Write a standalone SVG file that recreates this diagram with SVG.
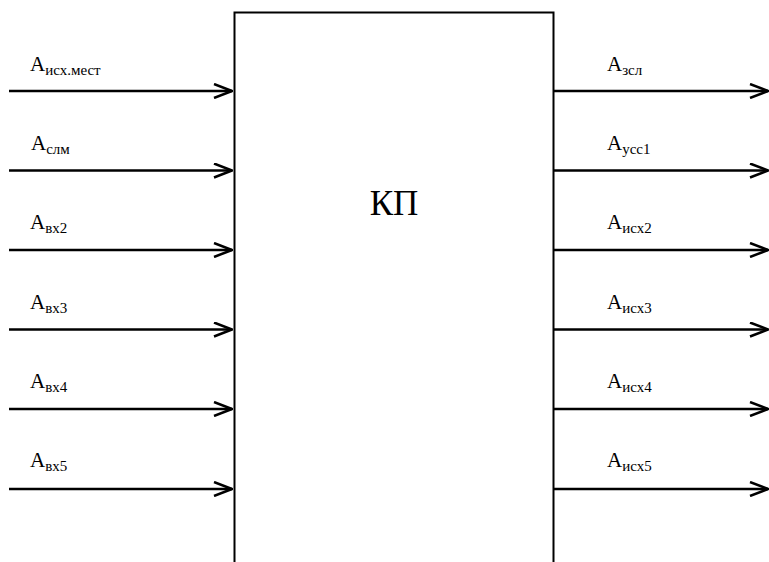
<svg xmlns="http://www.w3.org/2000/svg" width="769" height="562" viewBox="0 0 769 562">
<style>
text{font-family:"Liberation Serif","Times New Roman","DejaVu Serif",serif;fill:#000;font-size:21px}
.s{font-size:15px}
.big{font-size:35px}
.ln{stroke:#000;stroke-width:2.5;fill:none}
</style>
<defs>
<marker id="ah" viewBox="0 0 20 16" refX="19" refY="8" markerWidth="20" markerHeight="16" markerUnits="userSpaceOnUse" orient="auto">
<path d="M1,1 L19,8 L1,15" fill="none" stroke="#000" stroke-width="2.5"/>
</marker>
</defs>
<rect width="769" height="562" fill="#fff"/>
<g id="kp">
<path d="M234.5,562 V12.5 H553.5 V562" fill="none" stroke="#000" stroke-width="2"/>
<text class="big" x="394" y="215" text-anchor="middle">КП</text>
</g>
<g id="connectors">
<line class="ln" x1="9" y1="91" x2="232" y2="91" marker-end="url(#ah)"/>
<line class="ln" x1="9" y1="170.5" x2="232" y2="170.5" marker-end="url(#ah)"/>
<line class="ln" x1="9" y1="250" x2="232" y2="250" marker-end="url(#ah)"/>
<line class="ln" x1="9" y1="329.5" x2="232" y2="329.5" marker-end="url(#ah)"/>
<line class="ln" x1="9" y1="409" x2="232" y2="409" marker-end="url(#ah)"/>
<line class="ln" x1="9" y1="489" x2="232" y2="489" marker-end="url(#ah)"/>
<line class="ln" x1="554" y1="91" x2="768" y2="91" marker-end="url(#ah)"/>
<line class="ln" x1="554" y1="170.5" x2="768" y2="170.5" marker-end="url(#ah)"/>
<line class="ln" x1="554" y1="250" x2="768" y2="250" marker-end="url(#ah)"/>
<line class="ln" x1="554" y1="329.5" x2="768" y2="329.5" marker-end="url(#ah)"/>
<line class="ln" x1="554" y1="409" x2="768" y2="409" marker-end="url(#ah)"/>
<line class="ln" x1="554" y1="489" x2="768" y2="489" marker-end="url(#ah)"/>
</g>
<g id="labels-in">
<text x="30" y="71">A<tspan class="s" dy="4">исх.мест</tspan></text>
<text x="31" y="150">A<tspan class="s" dy="4">слм</tspan></text>
<text x="30" y="229">A<tspan class="s" dy="4">вх2</tspan></text>
<text x="30" y="309">A<tspan class="s" dy="4">вх3</tspan></text>
<text x="30" y="388">A<tspan class="s" dy="4">вх4</tspan></text>
<text x="30" y="467">A<tspan class="s" dy="4">вх5</tspan></text>
</g>
<g id="labels-out">
<text x="607" y="71">A<tspan class="s" dy="4">зсл</tspan></text>
<text x="607" y="150">A<tspan class="s" dy="4">усс1</tspan></text>
<text x="607" y="229">A<tspan class="s" dy="4">исх2</tspan></text>
<text x="607" y="309">A<tspan class="s" dy="4">исх3</tspan></text>
<text x="607" y="388">A<tspan class="s" dy="4">исх4</tspan></text>
<text x="607" y="467">A<tspan class="s" dy="4">исх5</tspan></text>
</g>
</svg>
